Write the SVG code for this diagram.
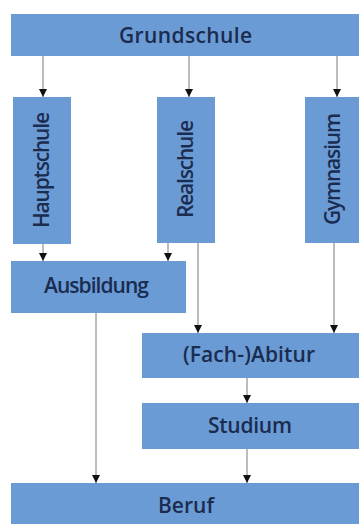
<svg xmlns="http://www.w3.org/2000/svg" width="359" height="524" viewBox="0 0 359 524">
<defs>
<style>
.box{fill:#6b9bd5;}
.t{font-family:"Open Sans","DejaVu Sans",sans-serif;font-size:21px;font-weight:600;fill:#1a2c50;text-anchor:middle;}
.c{stroke:#7a7a7a;stroke-width:1;fill:none;marker-end:url(#ah);}
</style>
<marker id="ah" viewBox="0 0 8 10" refX="8" refY="5" markerWidth="8" markerHeight="10" markerUnits="userSpaceOnUse" orient="auto">
<path d="M0,1 L8,5 L0,9 Z" fill="#111"/>
</marker>
</defs>
<rect width="359" height="524" fill="#fff"/>
<g id="connectors">
<line class="c" x1="43" y1="56" x2="43" y2="97"/>
<line class="c" x1="189" y1="56" x2="189" y2="97"/>
<line class="c" x1="337" y1="56" x2="337" y2="97"/>
<line class="c" x1="43" y1="244" x2="43" y2="261"/>
<line class="c" x1="168" y1="243" x2="168" y2="261"/>
<line class="c" x1="198" y1="243" x2="198" y2="333"/>
<line class="c" x1="334" y1="243" x2="334" y2="333"/>
<line class="c" x1="247" y1="378" x2="247" y2="403"/>
<line class="c" x1="247" y1="449" x2="247" y2="483"/>
<line class="c" x1="96" y1="313" x2="96" y2="483"/>
</g>
<g id="grundschule"><rect class="box" x="11" y="14" width="348" height="42"/><text class="t" x="185.5" y="43" textLength="133">Grundschule</text></g>
<g id="hauptschule"><rect class="box" x="13" y="97" width="58" height="147"/><text class="t" transform="translate(49,170) rotate(-90)" textLength="116">Hauptschule</text></g>
<g id="realschule"><rect class="box" x="157" y="97" width="58" height="146"/><text class="t" transform="translate(193,169) rotate(-90)" textLength="98">Realschule</text></g>
<g id="gymnasium"><rect class="box" x="305" y="97" width="54" height="146"/><text class="t" transform="translate(340,169) rotate(-90)" textLength="112">Gymnasium</text></g>
<g id="ausbildung"><rect class="box" x="11" y="261" width="175" height="52"/><text class="t" x="96.5" y="293" textLength="105">Ausbildung</text></g>
<g id="abitur"><rect class="box" x="142" y="333" width="217" height="45"/><text class="t" x="249" y="362" textLength="132">(Fach-)Abitur</text></g>
<g id="studium"><rect class="box" x="142" y="403" width="217" height="46"/><text class="t" x="250" y="433" textLength="84">Studium</text></g>
<g id="beruf"><rect class="box" x="11" y="483" width="348" height="41"/><text class="t" x="186" y="513" textLength="56">Beruf</text></g>
</svg>
